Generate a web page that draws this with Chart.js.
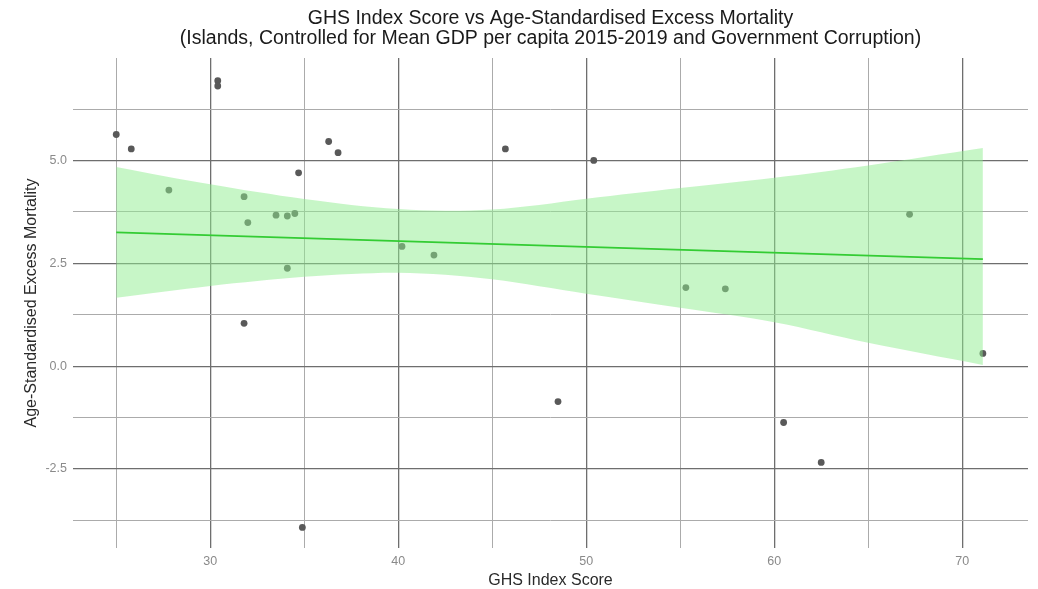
<!DOCTYPE html>
<html>
<head>
<meta charset="utf-8">
<script src="https://cdn.jsdelivr.net/npm/chart.js@4"></script>
<style>
  html, body { margin: 0; padding: 0; background: #ffffff; }
  #wrap { width: 1038px; height: 589px; position: relative; }
</style>
</head>
<body>
<div id="wrap"><canvas id="c"></canvas></div>
<script>
// ---- data ----
const ghsScore = [25.0, 25.8, 30.4, 30.4, 27.8, 36.3, 36.8, 34.7, 31.8, 32.0, 33.5, 34.1, 34.5, 34.1,
                  40.2, 41.9, 45.7, 50.4, 55.3, 57.4, 67.2, 71.1, 31.8, 34.9, 48.5, 60.5, 62.5];
const excessMortality = [5.63, 5.28, 6.94, 6.81, 4.28, 5.46, 5.19, 4.70, 4.12, 3.49, 3.67, 3.65, 3.71, 2.38,
                         2.91, 2.70, 5.28, 5.00, 1.91, 1.88, 3.69, 0.31, 1.04, -3.92, -0.86, -1.37, -2.34];

const fitX = [25.0, 71.1];
const fitY = [3.25, 2.60];

const bandX     = [25, 27.5, 30, 32.5, 35, 37.5, 40, 42.5, 45, 47.5, 50, 55, 60, 65, 71.1];
const bandUpper = [4.84, 4.62, 4.42, 4.23, 4.06, 3.92, 3.82, 3.78, 3.81, 3.92, 4.07, 4.33, 4.58, 4.88, 5.30];
const bandLower = [1.66, 1.81, 1.95, 2.07, 2.17, 2.24, 2.27, 2.22, 2.11, 1.94, 1.76, 1.42, 1.07, 0.57, 0.03];

const xTicks      = [25, 30, 35, 40, 45, 50, 55, 60, 65, 70];
const xTickLabels = ['', '30', '', '40', '', '50', '', '60', '', '70'];
const yTicks      = [-3.75, -2.5, -1.25, 0, 1.25, 2.5, 3.75, 5, 6.25];
const yTickLabels = ['', '-2.5', '', '0.0', '', '2.5', '', '5.0', ''];

const titleLines = ['GHS Index Score vs Age-Standardised Excess Mortality',
                    '(Islands, Controlled for Mean GDP per capita 2015-2019 and Government Corruption)'];
const xTitle = 'GHS Index Score';
const yTitle = 'Age-Standardised Excess Mortality';

// ---- build ----
const pts = (xs, ys) => xs.map((x, i) => ({ x: x, y: ys[i] }));
const FONT = '"Liberation Sans", Arial, Helvetica, sans-serif';
const MAJOR = '#6e6e6e', MINOR = '#ababab';

new Chart(document.getElementById('c'), {
  type: 'scatter',
  data: {
    datasets: [
      { type: 'line', data: pts(fitX, fitY), borderColor: '#33cc33', borderWidth: 1.8,
        pointRadius: 0, fill: false, tension: 0 },
      { type: 'line', data: pts(bandX, bandUpper), borderWidth: 0, borderColor: 'rgba(0,0,0,0)',
        pointRadius: 0, fill: '+1', backgroundColor: 'rgba(144,238,144,0.5)', tension: 0.35 },
      { type: 'line', data: pts(bandX, bandLower), borderWidth: 0, borderColor: 'rgba(0,0,0,0)',
        pointRadius: 0, fill: false, tension: 0.35 },
      { type: 'scatter', data: pts(ghsScore, excessMortality), backgroundColor: '#595959',
        borderWidth: 0, pointRadius: 3.4, pointHoverRadius: 3.4 }
    ]
  },
  options: {
    responsive: true,
    maintainAspectRatio: false,
    animation: false,
    layout: { padding: { left: 0, right: 10, top: 0, bottom: 0 } },
    plugins: {
      legend: { display: false },
      tooltip: { enabled: false },
      title: {
        display: true, text: titleLines, fullSize: false, color: '#1a1a1a',
        font: { family: FONT, size: 19.5, weight: 'normal', lineHeight: 1.0 },
        padding: { top: 9, bottom: 10 }
      }
    },
    scales: {
      x: {
        type: 'linear', min: 22.7, max: 73.5,
        afterBuildTicks: s => { s.ticks = xTicks.map(v => ({ value: v })); },
        afterFit: s => { s.height = 41; },
        border: { display: false },
        grid: { drawTicks: false,
                color: c => (xTickLabels[c.index] ? MAJOR : MINOR),
                lineWidth: c => (xTickLabels[c.index] ? 1.3 : 1) },
        ticks: { padding: 6, color: '#8a8a8a', font: { family: FONT, size: 12.5 },
                 callback: (v, i) => xTickLabels[i], maxRotation: 0, autoSkip: false },
        title: { display: true, text: xTitle, color: '#2a2a2a',
                 font: { family: FONT, size: 16, lineHeight: 1.0 }, padding: { top: 0, bottom: 0 } }
      },
      y: {
        type: 'linear', min: -4.42, max: 7.49,
        afterBuildTicks: s => { s.ticks = yTicks.map(v => ({ value: v })); },
        afterFit: s => { s.width = 73; },
        border: { display: false },
        grid: { drawTicks: false,
                color: c => (yTickLabels[c.index] ? MAJOR : MINOR),
                lineWidth: c => (yTickLabels[c.index] ? 1.3 : 1) },
        ticks: { padding: 6, color: '#8a8a8a', font: { family: FONT, size: 12.5 },
                 callback: (v, i) => yTickLabels[i], autoSkip: false },
        title: { display: true, text: yTitle, color: '#2a2a2a',
                 font: { family: FONT, size: 16, lineHeight: 1.2 }, padding: { top: 22, bottom: 0 } }
      }
    }
  }
});
</script>
</body>
</html>
